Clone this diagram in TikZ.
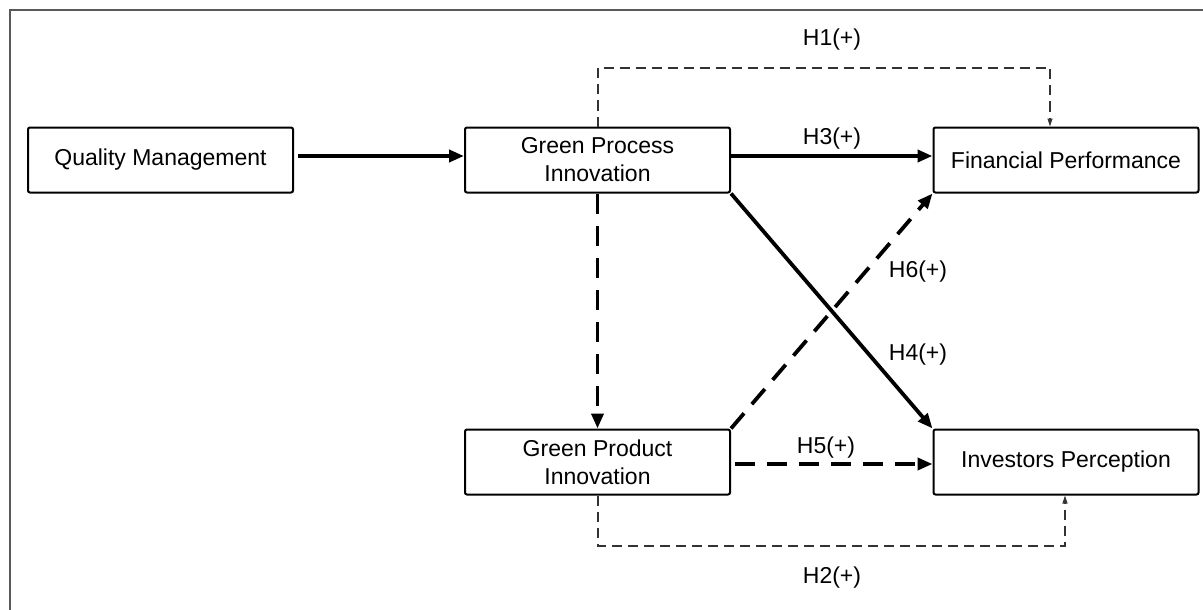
\documentclass[tikz,border=0pt]{standalone}
\usepackage{fontspec}
\setmainfont{Liberation Sans}
\usetikzlibrary{arrows.meta}
\begin{document}
\begin{tikzpicture}[x=1pt,y=-1pt,
  box/.style={draw=black, line width=2pt, rounded corners=2pt, minimum width=265pt, minimum height=65pt, align=center, font=\fontsize{23}{28}\selectfont, inner sep=0pt},
  lbl/.style={font=\fontsize{23}{29}\selectfont, inner sep=0pt},
  bigarrow/.style={line width=3.8pt, -{Triangle[length=15pt,width=12pt]}},
  bigdash/.style={line width=3.8pt, dash pattern=on 20pt off 12pt, -{Triangle[length=15pt,width=12pt]}},
  thindash/.style={line width=1.1pt, draw=black!80, dash pattern=on 10pt off 6pt, -{Triangle[length=8pt,width=5pt]}}]
\useasboundingbox (0,0) rectangle (1203,610);
\draw[line width=2.5pt, draw=black!65] (10,610) -- (10,10) -- (1203,10);

\node[box] (qm) at (160.5,160) {Quality Management};
\node[box] (gpi) at (597.5,160) {Green Process\\Innovation};
\node[box] (fp) at (1066,160) {Financial Performance};
\node[box] (gprod) at (597.5,462) {Green Product\\Innovation};
\node[box] (ip) at (1066,462) {Investors Perception};

\coordinate (h1a) at (598,68);
\coordinate (h1b) at (1050,68);
\coordinate (h2a) at (598,546);
\coordinate (h2b) at (1065,546);

\draw[bigarrow] (qm.east) ++(4,-4) coordinate (qmo) (qmo) -- (gpi.west |- qmo);
\draw[bigarrow] (gpi.east |- qmo) -- (fp.west |- qmo);
\node[lbl] (h3) at (832,139) {H3(+)};
\draw[thindash] (gpi.north -| h1a) -- (h1a) -- (h1b) -- (fp.north -| h1b);
\node[lbl] (h1) at (832,40) {H1(+)};
\draw[bigdash] (gpi.south) -- (gprod.north);
\draw[bigarrow] (gpi.south east) -- (ip.north west);
\draw[bigdash] (gprod.north east) -- (fp.south west);
\draw[bigdash] (gprod.east) ++(4,2) coordinate (gpo) (gpo) -- (ip.west |- gpo);
\node[lbl] (h5) at (826,448) {H5(+)};
\draw[thindash] (gprod.south -| h2a) -- (h2a) -- (h2b) -- (ip.south -| h2b);
\node[lbl] (h2) at (832,578) {H2(+)};
\node[lbl] (h6) at (918,272) {H6(+)};
\node[lbl] (h4) at (918,355) {H4(+)};
\end{tikzpicture}
\end{document}
